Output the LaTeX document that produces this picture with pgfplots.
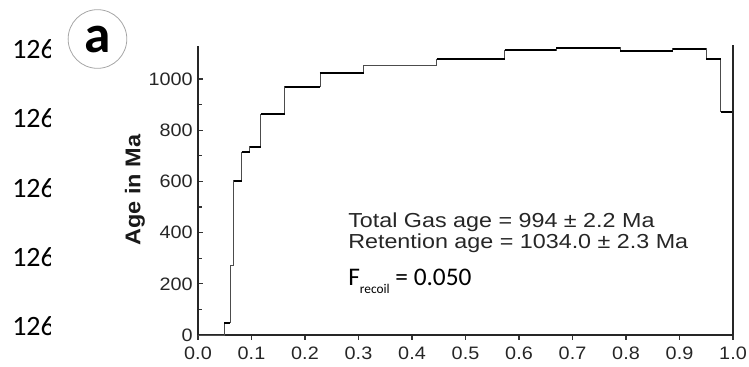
\documentclass[border=0pt]{standalone}
\usepackage{fontspec}
\usepackage{pgfplots}
\pgfplotsset{compat=1.18}
\newfontfamily\chartfont{Liberation Sans}[FakeStretch=1.1]
\newfontfamily\annfont{Liberation Sans}[FakeStretch=1.15]
\newfontfamily\calfont{Carlito}
\begin{document}
\begin{tikzpicture}
\path[use as bounding box] (0,0) rectangle (561.75pt,-275.25pt);
% stray cut-off labels at the left margin
\begin{scope}
\clip (0,0) rectangle (37.5pt,-275.25pt);
\foreach \yy in {59,128,197,266,335}{
  \node[anchor=base west, inner sep=0pt, text=black] at (9pt,-\yy*0.75pt) {\calfont\fontsize{21}{22}\selectfont 126};
}
\end{scope}
% panel letter
\draw[gray!70, line width=0.6pt] (73.1pt,-29.25pt) circle (22pt);
\node[inner sep=0pt, anchor=base] at (73.5pt,-39.75pt) {\calfont\bfseries\fontsize{40}{41}\selectfont a};
\begin{axis}[
  at={(148.5pt,-251.25pt)}, anchor=origin,
  scale only axis, width=401.25pt, height=216.75pt,
  xmin=0, xmax=1, ymin=0, ymax=1129,
  axis x line*=bottom, axis y line*=left,
  axis line style={-, line width=1.1pt, black!85},
  xtick={0,0.1,...,1.0},
  ytick={0,200,400,600,800,1000},
  minor ytick={100,300,500,700,900},
  xtick align=outside, ytick align=inside,
  major tick length=3.6pt, minor tick length=3pt,
  tick style={line width=0.8pt, black!80},
  /pgf/number format/assume math mode=true,
  xticklabel style={yshift=-1.5pt, /pgf/number format/fixed, /pgf/number format/fixed zerofill, /pgf/number format/precision=1},
  yticklabel style={xshift=-0.5pt, /pgf/number format/fixed, /pgf/number format/1000 sep={}},
  ticklabel style={font=\chartfont\fontsize{13.5}{14}\selectfont, text=black!85},
  clip=false,
]
\addplot[const plot, gray!60!black, line width=0.7pt] coordinates {
(0,0) (0.0486,48) (0.06,271) (0.067,602) (0.0816,715) (0.097,735) (0.117,862) (0.162,970) (0.228,1025) (0.31,1052) (0.446,1078) (0.573,1113) (0.67,1122) (0.789,1109) (0.887,1118) (0.95,1077) (0.977,872) (1.0,872)};
\addplot[black, line width=1.6pt, unbounded coords=jump] coordinates {
(0.0486,48) (0.06,48) (0.06,nan)
(0.067,602) (0.0816,602) (0.0816,nan)
(0.0816,715) (0.097,715) (0.097,nan)
(0.097,735) (0.117,735) (0.117,nan)
(0.117,862) (0.162,862) (0.162,nan)
(0.162,970) (0.228,970) (0.228,nan)
(0.228,1025) (0.31,1025) (0.31,nan)
(0.446,1078) (0.573,1078) (0.573,nan)
(0.573,1113) (0.67,1113) (0.67,nan)
(0.67,1122) (0.789,1122) (0.789,nan)
(0.789,1109) (0.887,1109) (0.887,nan)
(0.887,1118) (0.95,1118) (0.95,nan)
(0.95,1077) (0.977,1077) (0.977,nan)
(0.977,872) (1.0,872)};
\draw[line width=1.1pt, black!85] (rel axis cs:1,0) -- (rel axis cs:1,1.004);
\end{axis}
\node[rotate=90, inner sep=0pt, text=black!90] at (101.25pt,-142.5pt) {\chartfont\bfseries\fontsize{16}{17}\selectfont Age in Ma};
\node[anchor=base west, inner sep=0pt, text=black!85] at (261pt,-170.5pt) {\annfont\fontsize{15.2}{16}\selectfont Total Gas age = 994 ± 2.2 Ma};
\node[anchor=base west, inner sep=0pt, text=black!85] at (261pt,-186pt) {\annfont\fontsize{15.2}{16}\selectfont Retention age = 1034.0 ± 2.3 Ma};
\node[anchor=base west, inner sep=0pt, text=black] at (261pt,-213.75pt) {\calfont\fontsize{19}{20}\selectfont F\raisebox{-6pt}{\fontsize{10}{11}\selectfont recoil} = 0.050};
\end{tikzpicture}
\end{document}
